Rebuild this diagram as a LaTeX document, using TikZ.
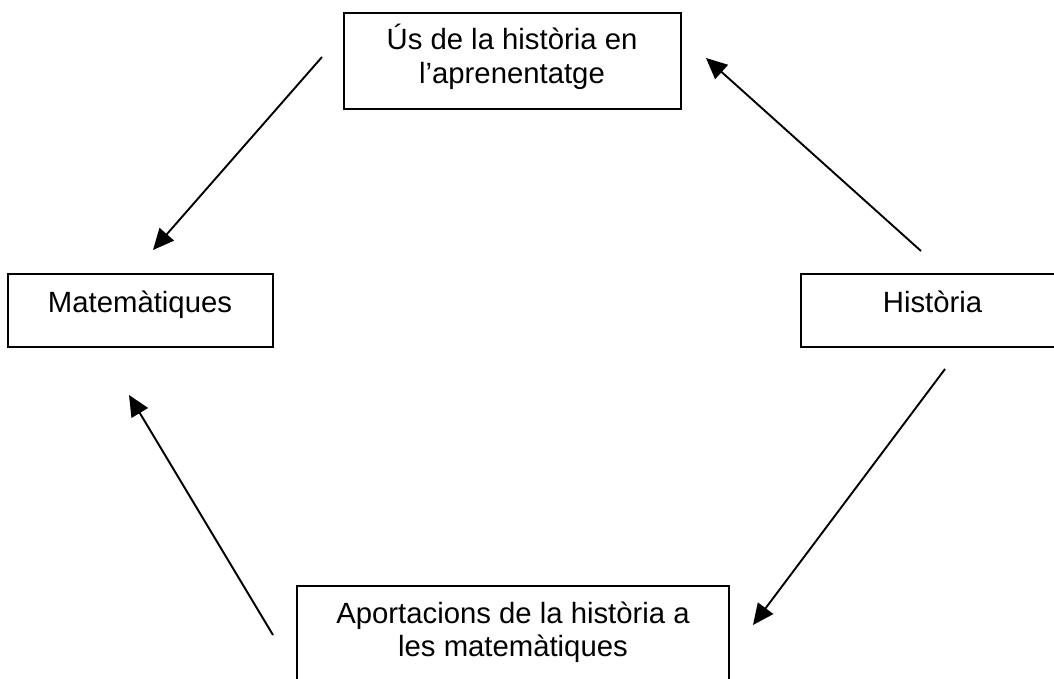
\documentclass[tikz,border=0pt]{standalone}
\usepackage{fontspec}
\setmainfont{Liberation Sans}
\usetikzlibrary{arrows.meta}
\begin{document}
\begin{tikzpicture}[x=1pt,y=-1pt,
  box/.style={draw=black, line width=1.8pt, rectangle, inner sep=0pt},
  lbl/.style={inner sep=0pt, anchor=base, align=center, font=\fontsize{29.3}{33.5}\selectfont},
  conn/.style={line width=1.9pt, -{Triangle[length=21pt,width=19pt]}}]
\useasboundingbox (0,0) rectangle (1054,679);
\clip (0,0) rectangle (1054,679);
% boxes
\node[box, minimum width=337pt, minimum height=96pt] (top) at (512.5,61) {};
\node[box, minimum width=265pt, minimum height=73pt] (left) at (140.5,310.5) {};
\node[box, minimum width=263pt, minimum height=73pt] (right) at (932.5,310.5) {};
\node[box, minimum width=432pt, minimum height=104pt] (bottom) at (513,638) {};
% texts
\node[lbl] (topT) at (512,83.5) {Ús de la història en\\l’aprenentatge};
\node[lbl] (leftT) at (140,312) {Matemàtiques};
\node[lbl] (rightT) at (932.5,312) {Història};
\node[lbl] (bottomT) at (513,656.5) {Aportacions de la història a\\les matemàtiques};
% connector ends
\coordinate (a1) at (322,57);  \coordinate (b1) at (153,250);
\coordinate (a2) at (921,251); \coordinate (b2) at (706,58);
\coordinate (a3) at (945,369); \coordinate (b3) at (753,625);
\coordinate (a4) at (273,635); \coordinate (b4) at (129,395);
\draw[conn] (a1) -- (b1);
\draw[conn] (a2) -- (b2);
\draw[conn] (a3) -- (b3);
\draw[conn] (a4) -- (b4);
\end{tikzpicture}
\end{document}
